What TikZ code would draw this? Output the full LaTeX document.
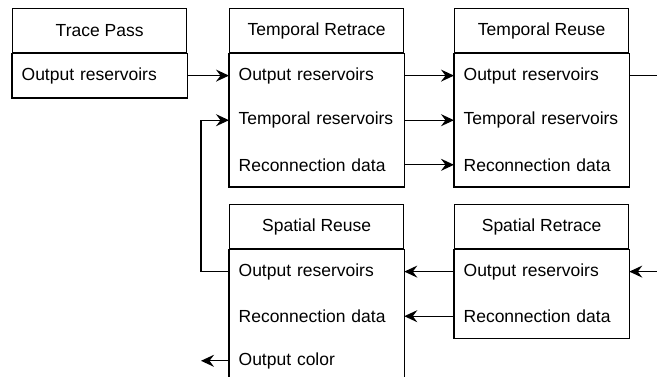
\documentclass[tikz,border=0pt]{standalone}
\usepackage{fontspec}
\setmainfont{Liberation Sans}
\usetikzlibrary{arrows.meta}
\begin{document}
\begin{tikzpicture}
            [
                x = 1pt, y = -1pt,
                font = \fontsize{17.5}{21}\selectfont,
                title/.style = {draw, anchor=north west, minimum width=174pt, minimum height=44pt, inner sep=0pt},
                field/.style = {anchor=north west, text width=156pt, align=left, inner xsep=9pt, inner ysep=0pt, minimum height=43.3pt},
                link/.style = {line width=1.3pt, -{Stealth[length=13pt, width=12pt, inset=4.5pt]}}
            ]
            \useasboundingbox (0, 0) rectangle (657, 376);
            \tikzset{every path/.style = {line width=1.3pt}}
            % trace pass
            \node[title] (tp) at (12, 8) {Trace Pass};
            \node[field] (tpOut) at (tp.south west) {Output reservoirs};
            \draw (tp.south west) rectangle (tpOut.south east);
            % temporal retrace
            \node[title] (tr) at (229, 8) {Temporal Retrace};
            \node[field] (trOut) at (tr.south west) {Output reservoirs};
            \node[field] (trTemp) at (trOut.south west) {Temporal reservoirs};
            \node[field] (trRec) at (trTemp.south west) {Reconnection data};
            \draw (tr.south west) rectangle (trRec.south east);
            % temporal reuse
            \node[title] (ru) at (454, 8) {Temporal Reuse};
            \node[field] (ruOut) at (ru.south west) {Output reservoirs};
            \node[field] (ruTemp) at (ruOut.south west) {Temporal reservoirs};
            \node[field] (ruRec) at (ruTemp.south west) {Reconnection data};
            \draw (ru.south west) rectangle (ruRec.south east);
            % spatial retrace
            \node[title] (sr) at (454, 204) {Spatial Retrace};
            \node[field] (srOut) at (sr.south west) {Output reservoirs};
            \node[field] (srRec) at (srOut.south west) {Reconnection data};
            \draw (sr.south west) rectangle (srRec.south east);
            % spatial reuse
            \node[title] (su) at (229, 204) {Spatial Reuse};
            \node[field] (suOut) at (su.south west) {Output reservoirs};
            \node[field] (suRec) at (suOut.south west) {Reconnection data};
            \node[field] (suCol) at (suRec.south west) {Output color};
            \draw (su.south west) rectangle (suCol.south east);
            \coordinate (edge) at (657.5, 0);
            \coordinate (back) at (201, 0);
            \draw[link] (tpOut) -- (trOut);
            \draw[link] (trOut) -- (ruOut);
            \draw[link] (trTemp) -- (ruTemp);
            \draw[link] (trRec) -- (ruRec);
            \draw[link] (ruOut.east) -- (edge |- ruOut.east) |- (srOut.east);
            \draw[link] (srOut) -- (suOut);
            \draw[link] (srRec) -- (suRec);
            \draw[link] (suOut.west) -- (back |- suOut.west) |- (trTemp.west);
            \draw[link] (suCol.west) -- (back |- suCol.west);
        \end{tikzpicture}
\end{document}
